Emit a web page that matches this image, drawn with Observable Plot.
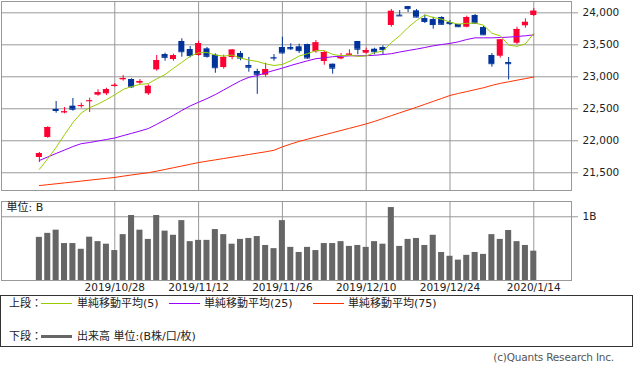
<!DOCTYPE html>
<html><head><meta charset="utf-8">
<script src="https://cdn.jsdelivr.net/npm/d3@7"></script>
<script src="https://cdn.jsdelivr.net/npm/@observablehq/plot@0.6"></script>
<style>
body{margin:0;background:#fff;}
#wrap{position:relative;width:633px;height:371px;overflow:hidden;background:#fff;font-family:"DejaVu Sans","Noto Sans CJK JP",sans-serif;color:#222;}
#top{position:absolute;left:0;top:0;}
#bottom{position:absolute;left:0;top:200px;}
#legend{position:absolute;left:0;top:295px;width:631px;height:50px;border:1px solid #333;font-size:11px;}
#legend span{position:absolute;white-space:nowrap;line-height:14px;}
#legend .sw{position:absolute;height:0;}
#copy{position:absolute;right:19px;top:350px;font-size:10.5px;color:#555;line-height:14px;letter-spacing:-0.2px;}
</style></head>
<body><div id="wrap"><div id="top"></div><div id="bottom"></div>
<div id="legend"></div><div id="copy">(c)Quants Research Inc.</div></div>
<script>
// ---- data ----
const dates = ["2019/10/11","2019/10/15","2019/10/16","2019/10/17","2019/10/18","2019/10/21","2019/10/23","2019/10/24","2019/10/25","2019/10/28","2019/10/29","2019/10/30","2019/10/31",
"2019/11/1","2019/11/5","2019/11/6","2019/11/7","2019/11/8","2019/11/11","2019/11/12","2019/11/13","2019/11/14","2019/11/15","2019/11/18","2019/11/19","2019/11/20","2019/11/21","2019/11/22","2019/11/25","2019/11/26","2019/11/27","2019/11/28","2019/11/29",
"2019/12/2","2019/12/3","2019/12/4","2019/12/5","2019/12/6","2019/12/9","2019/12/10","2019/12/11","2019/12/12","2019/12/13","2019/12/16","2019/12/17","2019/12/18","2019/12/19","2019/12/20","2019/12/23","2019/12/24","2019/12/25","2019/12/26","2019/12/27","2019/12/30",
"2020/1/6","2020/1/7","2020/1/8","2020/1/9","2020/1/10","2020/1/14"];
const open  = [21739,22052,22490,22440,22541,22540,22617,22713,22734,22848,22953,22958,22900,22734,23109,23348,23270,23552,23427,23333,23437,23338,23145,23302,23364,23177,23083,23025,23302,23458,23458,23469,23505,23391,23239,23197,23281,23338,23552,23369,23431,23458,23802,23963,24098,24031,23911,23895,23927,23848,23817,23775,23958,23770,23333,23322,23223,23525,23797,23958];
const high  = [21817,22220,22614,22520,22661,22588,22666,22797,22822,22895,23020,22969,22958,22875,23333,23369,23353,23594,23473,23556,23458,23359,23338,23427,23395,23302,23119,23213,23348,23619,23516,23510,23510,23567,23395,23200,23364,23422,23552,23447,23447,23484,24052,24036,24100,24052,23963,23931,23938,23880,23820,23947,23974,23786,23364,23583,23302,23775,23906,24067];
const low   = [21661,22040,22431,22422,22463,22510,22442,22697,22708,22838,22931,22822,22880,22708,23088,23244,23244,23306,23297,23322,23291,23056,23119,23266,23250,23072,22726,22994,23244,23359,23411,23364,23275,23369,23181,23041,23266,23333,23344,23353,23344,23348,23775,23947,24005,23922,23833,23744,23806,23802,23775,23766,23817,23650,23150,23291,22951,23500,23760,23942];
const close = [21799,22207,22473,22452,22493,22549,22625,22751,22800,22867,22974,22843,22927,22851,23252,23304,23330,23392,23332,23520,23320,23142,23303,23417,23293,23149,23039,23113,23293,23373,23438,23409,23294,23530,23380,23135,23300,23354,23431,23410,23392,23425,24023,23952,24066,23934,23865,23817,23821,23831,23783,23925,23838,23657,23205,23576,23205,23740,23851,24025];
const ma5   = [21553,21720,21897,22096,22285,22435,22518,22574,22643,22718,22803,22847,22882,22893,22969,23035,23133,23226,23322,23376,23379,23341,23323,23340,23295,23261,23240,23202,23177,23193,23251,23325,23361,23409,23410,23350,23328,23340,23320,23326,23377,23402,23536,23641,23772,23880,23968,23927,23901,23854,23823,23835,23839,23807,23681,23640,23496,23476,23515,23679];
const ma25  = [21692,21747,21802,21855,21910,21955,21973,21997,22020,22044,22081,22116,22152,22191,22258,22327,22397,22475,22545,22603,22659,22723,22795,22867,22938,22991,23020,23062,23100,23136,23177,23214,23250,23283,23297,23314,23320,23328,23328,23330,23336,23348,23361,23387,23411,23433,23458,23484,23505,23522,23547,23583,23609,23609,23609,23614,23620,23630,23641,23656];
const ma75  = [21300,21314,21328,21342,21356,21370,21385,21399,21413,21427,21447,21466,21484,21500,21525,21552,21579,21606,21633,21660,21681,21702,21723,21744,21765,21786,21807,21828,21852,21905,21950,21990,22025,22059,22093,22127,22161,22195,22229,22264,22303,22348,22393,22437,22480,22524,22570,22616,22662,22708,22740,22769,22799,22829,22866,22897,22922,22947,22972,22996];
const volume = [0.677,0.74,0.79,0.58,0.58,0.49,0.68,0.61,0.57,0.47,0.72,1.02,0.79,0.645,1.02,0.775,0.71,0.94,0.61,0.63,0.63,0.80,0.72,0.57,0.645,0.66,0.69,0.55,0.50,0.94,0.52,0.44,0.52,0.47,0.58,0.58,0.61,0.535,0.55,0.52,0.61,0.57,1.145,0.535,0.645,0.66,0.55,0.71,0.44,0.38,0.32,0.395,0.44,0.41,0.72,0.645,0.785,0.61,0.55,0.46];
const priceTicks = [21500,22000,22500,23000,23500,24000];
const dateTicks = ["2019/10/28","2019/11/12","2019/11/26","2019/12/10","2019/12/24","2020/1/14"];
const volTicks = [1];
const legendItems = [
  {label:"単純移動平均(5)", color:"#99cc00"},
  {label:"単純移動平均(25)", color:"#9900ff"},
  {label:"単純移動平均(75)", color:"#ff3300"}
];
const volumeLabel = "出来高 単位:(B株/口/枚)";

// ---- build ----
const RED = "#ff0033", BLUE = "#003399", GRID = "#999999";
const rows = dates.map((d, i) => ({i, date: d, open: open[i], high: high[i], low: low[i], close: close[i],
  ma5: ma5[i], ma25: ma25[i], ma75: ma75[i], vol: volume[i], up: close[i] >= open[i]}));
const tickIdx = dateTicks.map(d => dates.indexOf(d));
const xDomain = [-4.52, 63.5];
const bw = 0.36;
const font = {fontFamily: "'DejaVu Sans', 'Noto Sans CJK JP', sans-serif", fontSize: "10.5px", color: "#222", background: "transparent"};

function candles(sel, color) {
  return [
    Plot.ruleX(rows, {filter: sel, x: "i", y1: "low", y2: "high", stroke: color}),
    Plot.rect(rows, {filter: sel, x1: d => d.i - bw, x2: d => d.i + bw, y1: "open", y2: "close", fill: color}),
    Plot.ruleY(rows, {filter: sel, y: "close", x1: d => d.i - bw, x2: d => d.i + bw, stroke: color})
  ];
}

const topChart = Plot.plot({
  width: 633, height: 191, marginLeft: 1, marginRight: 62, marginTop: 1, marginBottom: 1,
  style: font,
  x: {domain: xDomain, axis: null},
  y: {domain: [21223, 24177], axis: null},
  marks: [
    Plot.ruleY(priceTicks, {stroke: GRID}),
    Plot.ruleX(tickIdx, {stroke: GRID}),
    Plot.frame({stroke: GRID}),
    ...candles(d => d.up, RED),
    ...candles(d => !d.up, BLUE),
    Plot.line(rows, {x: "i", y: "ma75", stroke: legendItems[2].color, strokeWidth: 1}),
    Plot.line(rows, {x: "i", y: "ma25", stroke: legendItems[1].color, strokeWidth: 1}),
    Plot.line(rows, {x: "i", y: "ma5", stroke: legendItems[0].color, strokeWidth: 1}),
    Plot.axisY({ticks: priceTicks, anchor: "right", tickSize: 6, tickPadding: 5, tickFormat: d3.format(","), stroke: GRID, fill: "#222", label: null})
  ]
});
document.getElementById("top").appendChild(topChart);

const bottomChart = Plot.plot({
  width: 633, height: 100, marginLeft: 1, marginRight: 62, marginTop: 1, marginBottom: 20,
  style: font,
  x: {domain: xDomain, axis: null},
  y: {domain: [0, 1.24], axis: null},
  marks: [
    Plot.ruleY(volTicks, {stroke: GRID}),
    Plot.ruleX(tickIdx, {stroke: GRID}),
    Plot.rectY(rows, {x1: d => d.i - bw, x2: d => d.i + bw, y: "vol", fill: "#666666"}),
    Plot.frame({stroke: GRID}),
    Plot.text(["単位: B"], {frameAnchor: "top-left", dx: 5, dy: 2, lineAnchor: "top", textAnchor: "start", fill: "#222", fontSize: 11}),
    Plot.axisY({ticks: volTicks, anchor: "right", tickSize: 6, tickPadding: 5, tickFormat: d => d + "B", stroke: GRID, fill: "#222", label: null}),
    Plot.axisX({ticks: tickIdx, anchor: "bottom", tickSize: 0, tickPadding: 3, tickFormat: i => dates[i], fill: "#222", label: null})
  ]
});
document.getElementById("bottom").appendChild(bottomChart);

// ---- legend ----
const lg = document.getElementById("legend");
function span(text, left, top) { const s = document.createElement("span"); s.textContent = text; s.style.left = left + "px"; s.style.top = top + "px"; lg.appendChild(s); }
function swatch(color, left, top, w, h) { const s = document.createElement("div"); s.className = "sw"; s.style.left = left + "px"; s.style.top = top + "px"; s.style.width = w + "px"; s.style.borderTop = h + "px solid " + color; lg.appendChild(s); }
span("上段：", 8, 1);
const swx = [40, 168, 312], lbx = [76, 203, 347];
legendItems.forEach((it, k) => { swatch(it.color, swx[k], 7, 31, 1); span(it.label, lbx[k], 1); });
span("下段：", 8, 34);
swatch("#666666", 40, 39, 31, 3);
span(volumeLabel, 76, 34);
</script></body></html>
